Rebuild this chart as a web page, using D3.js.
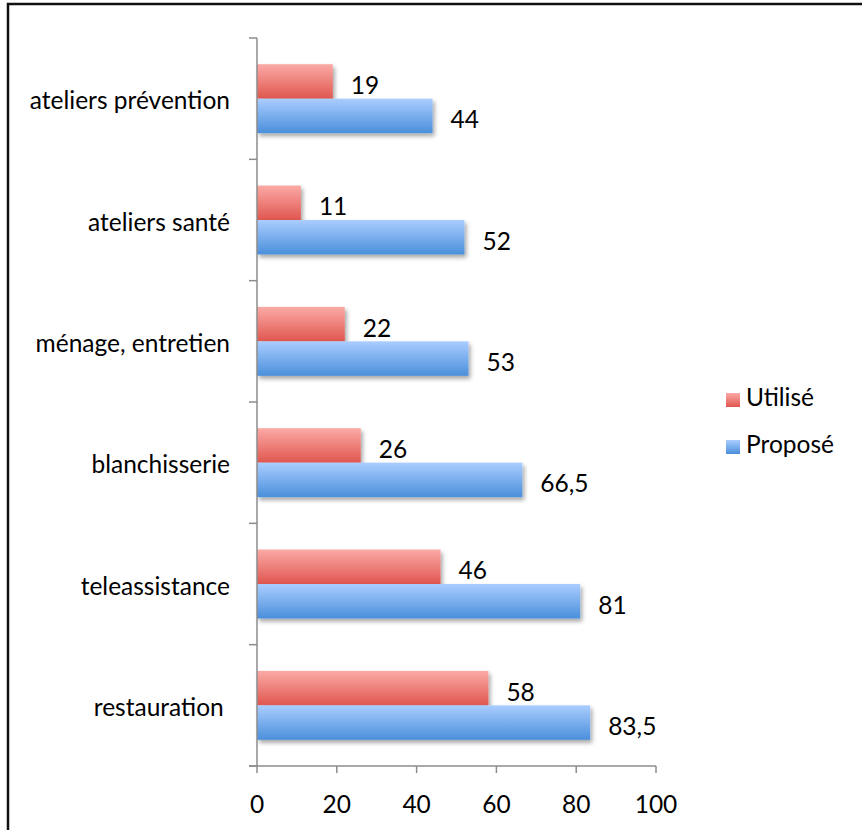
<!DOCTYPE html>
<html><head><meta charset="utf-8">
<script src="https://cdn.jsdelivr.net/npm/d3@7"></script>
<style>body{margin:0;background:#fff}svg{display:block;font-family:Lato,"Open Sans",sans-serif}</style>
</head><body><svg id="c" width="862" height="830"></svg>
<script>
const categories = ["ateliers prévention","ateliers santé","ménage, entretien","blanchisserie","teleassistance","restauration"];
const categoryLabels = ["ateliers prévention","ateliers santé","ménage, entretien","blanchisserie","teleassistance","restauration "];
const seriesNames = ["Utilisé","Proposé"];
const utilise = [19,11,22,26,46,58];
const propose = [44,52,53,66.5,81,83.5];
const xTicks = [0,20,40,60,80,100];

const FS = 24.5;
const svg = d3.select("#c");
const defs = svg.append("defs");
const grads = [["gr","#fbaaa6","#e0564f"],["gb","#aacdff","#4a8fdb"]];
grads.forEach(([id,a,b])=>{
  const g=defs.append("linearGradient").attr("id",id).attr("x1",0).attr("y1",0).attr("x2",0).attr("y2",1);
  g.append("stop").attr("offset","0%").attr("stop-color",a);
  g.append("stop").attr("offset","100%").attr("stop-color",b);
});
const f=defs.append("filter").attr("id","sh").attr("x","-10%").attr("y","-20%").attr("width","130%").attr("height","160%");
f.append("feDropShadow").attr("dx",2).attr("dy",3).attr("stdDeviation",2).attr("flood-color","#000").attr("flood-opacity",0.35);

// border
svg.append("path").attr("d","M8,830 V4 H862").attr("fill","none").attr("stroke","#111").attr("stroke-width",2.5);

const x = d3.scaleLinear().domain([0,100]).range([257,656]);
const y0 = d3.scaleBand().domain(categories).range([38,766]).padding(0);
const y1 = d3.scaleBand().domain(seriesNames).range([0,y0.bandwidth()]).paddingInner(0).paddingOuter(0.76);
const color = {"Utilisé":"url(#gr)","Proposé":"url(#gb)"};
const vals = {"Utilisé":utilise,"Proposé":propose};
const fmt = v => String(v).replace(".",",");

const rows = [];
categories.forEach((c,i)=>seriesNames.forEach(s=>rows.push({c,s,v:vals[s][i]})));

// bars
svg.append("g").selectAll("rect").data(rows).join("rect")
  .attr("x",x(0)).attr("y",d=>y0(d.c)+y1(d.s))
  .attr("width",d=>x(d.v)-x(0)).attr("height",y1.bandwidth())
  .attr("fill",d=>color[d.s]).attr("filter","url(#sh)");

// value labels
svg.append("g").selectAll("text").data(rows).join("text")
  .attr("x",d=>x(d.v)+18).attr("y",d=>y0(d.c)+y1(d.s)+y1.bandwidth()/2+3)
  .attr("dominant-baseline","central").attr("font-size",FS).attr("fill","#000")
  .text(d=>fmt(d.v));

// y axis
const ya = svg.append("g");
ya.append("line").attr("x1",x(0)).attr("x2",x(0)).attr("y1",38).attr("y2",766).attr("stroke","#8c8c8c").attr("stroke-width",1.5);
const bounds = categories.map(c=>y0(c)).concat([766]);
ya.selectAll("line.t").data(bounds).join("line").attr("class","t")
  .attr("x1",249).attr("x2",x(0)).attr("y1",d=>d).attr("y2",d=>d).attr("stroke","#8c8c8c").attr("stroke-width",1.5);
ya.selectAll("text").data(categories).join("text")
  .attr("x",230).attr("y",d=>y0(d)+y0.bandwidth()/2+1).attr("text-anchor","end")
  .attr("dominant-baseline","central").attr("font-size",FS).attr("fill","#000")
  .text((d,i)=>categoryLabels[i]).attr("xml:space","preserve");

// x axis
const xa = svg.append("g");
xa.append("line").attr("x1",249).attr("x2",x(100)).attr("y1",766).attr("y2",766).attr("stroke","#8c8c8c").attr("stroke-width",1.5);
xa.selectAll("line.t").data(xTicks).join("line").attr("class","t")
  .attr("x1",d=>x(d)).attr("x2",d=>x(d)).attr("y1",766).attr("y2",773).attr("stroke","#8c8c8c").attr("stroke-width",1.5);
xa.selectAll("text").data(xTicks).join("text")
  .attr("x",d=>x(d)).attr("y",803).attr("text-anchor","middle").attr("dominant-baseline","central")
  .attr("font-size",FS).attr("fill","#000").text(d=>d);

// legend
const lg = svg.append("g");
seriesNames.forEach((s,i)=>{
  const yy = 400 + i*47;
  lg.append("rect").attr("x",726).attr("y",yy-7).attr("width",14).attr("height",14).attr("fill",color[s]);
  lg.append("text").attr("x",746).attr("y",yy-4).attr("dominant-baseline","central").attr("font-size",FS).attr("fill","#000").text(s);
});
</script></body></html>
